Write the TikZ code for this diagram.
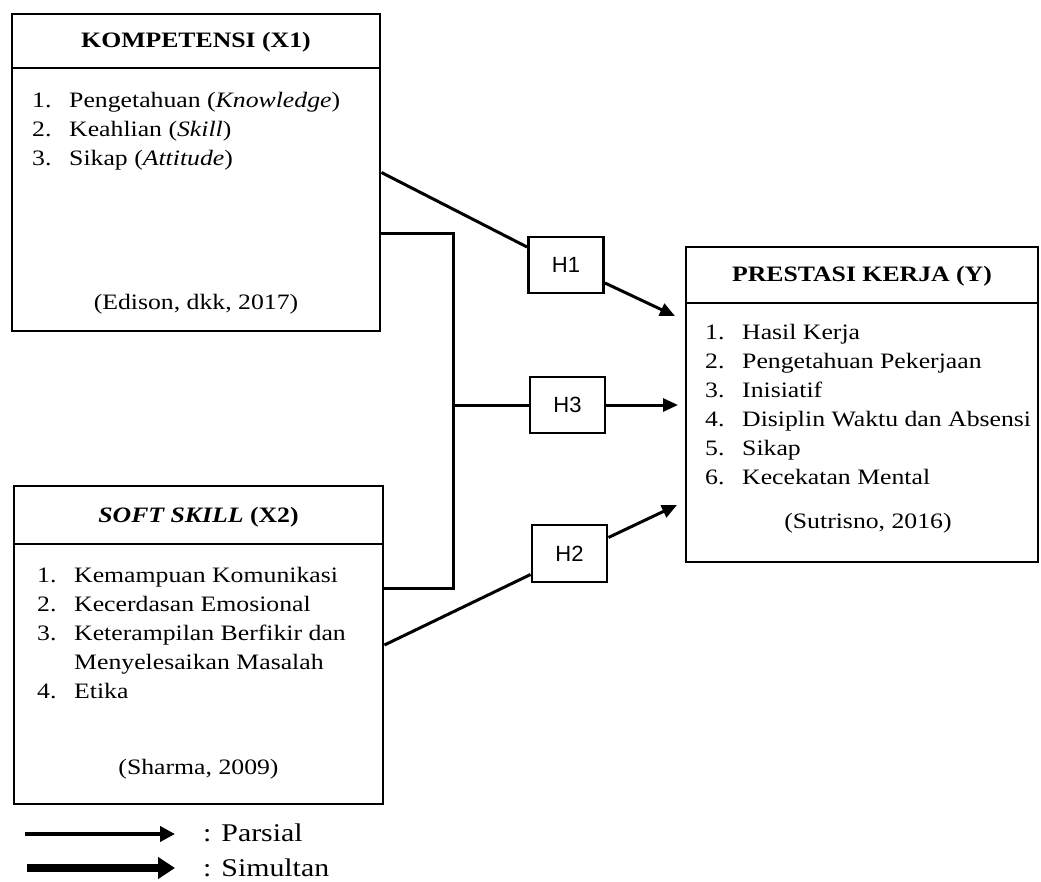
\documentclass[tikz,border=0pt]{standalone}
\usepackage{fontspec}
\setmainfont[FakeStretch=1.17]{Liberation Serif}
\newfontfamily\hfont{Liberation Sans}
\usetikzlibrary{arrows.meta}

\begin{document}
\begin{tikzpicture}[x=1pt, y=-1pt,
  varbox/.style={draw, line width=2.9pt, inner sep=0pt},
  hbox/.style={draw, line width=2.9pt, inner sep=0pt, minimum width=75pt, minimum height=56pt, font=\hfont\fontsize{22}{26}\selectfont},
  ttl/.style={anchor=base, inner sep=0pt, font=\fontsize{22}{26}\selectfont\bfseries},
  lst/.style={anchor=base west, inner sep=0pt, font=\fontsize{22}{29}\selectfont},
  cite/.style={anchor=base, inner sep=0pt, font=\fontsize{22}{26}\selectfont},
  link/.style={line width=3pt},
  arr/.style={line width=3pt, -{Triangle[length=15pt, width=13pt]}}]

\useasboundingbox (0,0) rectangle (1041,882);

% kompetensi
\node [varbox, minimum width=368pt, minimum height=317pt] (x1) at (196,172.5) {};
\draw [line width=2.9pt] (x1.west |- 0,68) -- (x1.east |- 0,68);
\node [ttl] (x1title) at (196,48) {KOMPETENSI (X1)};
\node [lst] (x1list) at (32,108) {\begin{tabular}[t]{@{}p{37pt}@{}l@{}}
1. & Pengetahuan (\textit{Knowledge})\\
2. & Keahlian (\textit{Skill})\\
3. & Sikap (\textit{Attitude})
\end{tabular}};
\node [cite] (x1cite) at (196,310) {(Edison, dkk, 2017)};

% soft skill
\node [varbox, minimum width=369pt, minimum height=318pt] (x2) at (198.5,645) {};
\draw [line width=2.9pt] (x2.west |- 0,544) -- (x2.east |- 0,544);
\node [ttl] (x2title) at (198.5,522) {\textit{SOFT SKILL} (X2)};
\node [lst] (x2list) at (37,582) {\begin{tabular}[t]{@{}p{37pt}@{}l@{}}
1. & Kemampuan Komunikasi\\
2. & Kecerdasan Emosional\\
3. & Keterampilan Berfikir dan\\
   & Menyelesaikan Masalah\\
4. & Etika
\end{tabular}};
\node [cite] (x2cite) at (198.5,774) {(Sharma, 2009)};

% prestasi kerja
\node [varbox, minimum width=352pt, minimum height=315pt] (y) at (862,404.5) {};
\draw [line width=2.9pt] (y.west |- 0,303) -- (y.east |- 0,303);
\node [ttl] (ytitle) at (862,282) {PRESTASI KERJA (Y)};
\node [lst] (ylist) at (705,340) {\begin{tabular}[t]{@{}p{37pt}@{}l@{}}
1. & Hasil Kerja\\
2. & Pengetahuan Pekerjaan\\
3. & Inisiatif\\
4. & Disiplin Waktu dan Absensi\\
5. & Sikap\\
6. & Kecekatan Mental
\end{tabular}};
\node [cite] (ycite) at (868,528) {(Sutrisno, 2016)};

% hipotesis
\node [hbox] (h1) at (566,265) {H1};
\node [hbox] (h3) at (567.5,405) {H3};
\node [hbox, minimum height=57pt] (h2) at (569.5,553.5) {H2};

\coordinate (t1) at (675,316);
\coordinate (t3) at (678,405);
\coordinate (t2) at (677,505);
\coordinate (j1) at (453,234);
\coordinate (j3) at (453,405);
\coordinate (j2) at (453,588);

\draw [link] (x1.east) -- ([yshift=18pt]h1.west);
\draw [arr] ([yshift=-18pt]h1.east) -- (t1);
\draw [link] ([yshift=-61.5pt]x1.east) -- (j1) -- (j2) -- ([yshift=57pt]x2.east);
\draw [link] (j3) -- (h3.west);
\draw [arr] (h3.east) -- (t3);
\draw [link] (x2.east) -- ([yshift=-21pt]h2.west);
\draw [arr] ([yshift=16pt]h2.east) -- (t2);

% keterangan
\coordinate (pa) at (25,834);
\coordinate (pb) at (175,834);
\coordinate (sa) at (27,868);
\coordinate (sb) at (175,868);
\draw [line width=4.5pt, -{Triangle[length=15pt, width=15pt]}] (pa) -- (pb);
\draw [line width=8pt, -{Triangle[length=17pt, width=21pt]}] (sa) -- (sb);
\node [anchor=base west, inner sep=0pt, font=\fontsize{25.5}{30}\selectfont] (parsial) at (203,841) {: Parsial};
\node [anchor=base west, inner sep=0pt, font=\fontsize{25.5}{30}\selectfont] (simultan) at (203,876) {: Simultan};

\end{tikzpicture}
\end{document}
